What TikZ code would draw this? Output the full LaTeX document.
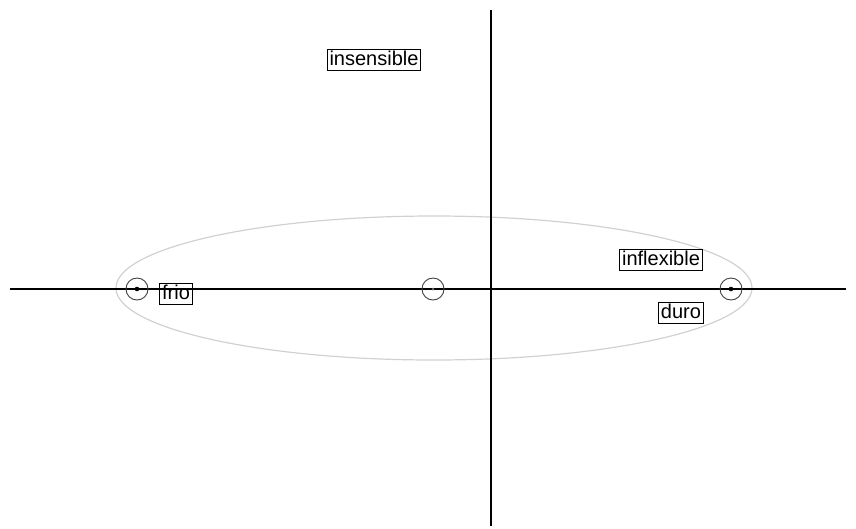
\documentclass[tikz,border=0pt]{standalone}
\usepackage{fontspec}
\setmainfont{Liberation Sans}
\begin{document}
\begin{tikzpicture}[x=1pt,y=-1pt,
  lbl/.style={draw=black,line width=1pt,inner xsep=2.5pt,inner ysep=1.5pt,font=\fontsize{20}{22}\selectfont,text height=14.5pt,text depth=4pt},
  pole/.style={circle,draw=black!75,line width=0.9pt,minimum size=22pt,inner sep=0pt},
  axis/.style={line width=1.2pt,black}]
\useasboundingbox (0,0) rectangle (856,528);
\draw[black!18,line width=1.2pt] (434,288) ellipse [x radius=318, y radius=72];
\coordinate (xl) at (10,289);
\coordinate (xr) at (846,289);
\coordinate (yt) at (491,10);
\coordinate (yb) at (491,526);
\draw[axis] (xl) -- (xr);
\draw[axis] (yt) -- (yb);
\node[pole] (p1) at (137,289) {};
\node[pole] (p2) at (433,289) {};
\node[pole] (p3) at (731,289) {};
\fill[black] (p1.center) circle (2.3);
\fill[black!60] (p2.center) circle (1.5);
\fill[black] (p3.center) circle (2.3);
\node[lbl] (insensible) at (374,60) {insensible};
\node[lbl] (frio) at (176,294) {frio};
\node[lbl] (inflexible) at (661,260) {inflexible};
\node[lbl] (duro) at (681,313) {duro};
\end{tikzpicture}
\end{document}
